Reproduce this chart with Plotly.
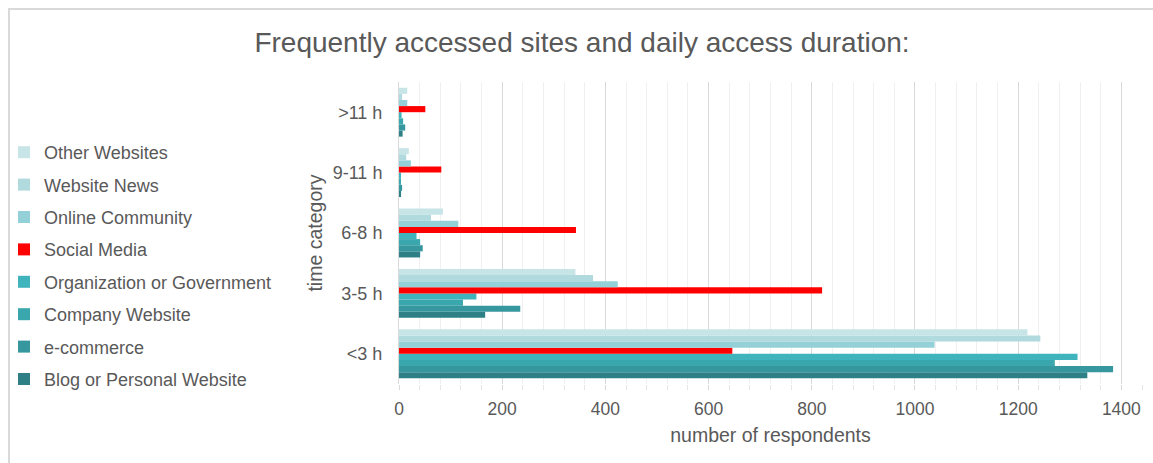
import plotly.graph_objects as go

categories = ["<3 h", "3-5 h", "6-8 h", "9-11 h", ">11 h"]

# series listed bottom-to-top within each group
series_names = [
    "Blog or Personal Website",
    "e-commerce",
    "Company Website",
    "Organization or Government",
    "Social Media",
    "Online Community",
    "Website News",
    "Other Websites",
]
blog = [1334, 167, 41, 4, 7]
ecommerce = [1384, 235, 46, 6, 12]
company = [1271, 124, 41, 3, 8]
organization = [1315, 150, 34, 4, 5]
social = [646, 820, 343, 82, 51]
community = [1038, 424, 115, 23, 16]
news = [1243, 376, 62, 14, 6]
other = [1218, 342, 85, 19, 16]

series_values = [blog, ecommerce, company, organization, social, community, news, other]
colors = ["#2f8086", "#37979e", "#3aa6ad", "#40b4bc", "#ff0000", "#93d0d7", "#b1dadf", "#c7e4e7"]

fig = go.Figure()
for i, (name, vals, col) in enumerate(zip(series_names, series_values, colors)):
    fig.add_trace(go.Bar(
        y=categories, x=vals, name=name, orientation="h",
        marker=dict(color=col, line=dict(width=0)),
        legendgroup=name, legendrank=1000 - i,
    ))

font_family = "Liberation Sans, Arial, sans-serif"
grey = "#595959"
W, H = 1153, 463
L, R, T, B = 399, 11, 82, 79
pw, ph = W - L - R, H - T - B

fig.update_layout(
    width=W, height=H,
    margin=dict(l=L, r=R, t=T, b=B, autoexpand=False),
    paper_bgcolor="white", plot_bgcolor="white",
    barmode="group", bargap=0.19, bargroupgap=0,
    font=dict(family=font_family, color=grey, size=17),
    title=dict(text="Frequently accessed sites and daily access duration:",
               x=582 / W, xref="container", xanchor="center",
               y=1 - 42 / H, yref="container", yanchor="middle",
               font=dict(size=28, color=grey, family=font_family)),
    legend=dict(traceorder="grouped", xref="container", yref="container",
                x=4 / W, xanchor="left", y=1 - 134 / H, yanchor="top",
                font=dict(size=18, color=grey), tracegroupgap=6, maxheight=420,
                itemwidth=30, bgcolor="rgba(0,0,0,0)"),
    xaxis=dict(range=[0, 1440], dtick=200, tick0=0, showgrid=True, gridcolor="#d9d9d9",
               gridwidth=1, zeroline=False, showline=False, automargin=False,
               ticks="outside", ticklen=5, tickcolor="#d9d9d9", ticklabelstandoff=4,
               minor=dict(dtick=40, showgrid=True, gridcolor="#f0f0f0", ticks="outside",
                          ticklen=5, tickcolor="#e6e6e6"),
               tickfont=dict(size=17.5, color=grey), fixedrange=True,
               title=dict(text="number of respondents", font=dict(size=19.5, color=grey), standoff=10)),
    yaxis=dict(showgrid=False, showline=True, linecolor="#d9d9d9", ticks="", automargin=False,
               tickfont=dict(size=18, color=grey), ticklabelstandoff=12,
               title=dict(text="time category", font=dict(size=19.5, color=grey), standoff=4)),
    shapes=[dict(type="rect", xref="paper", yref="paper",
                 x0=(9 - L) / pw, x1=(W + 20 - L) / pw,
                 y0=-(H + 20 - (H - B)) / ph, y1=(H - B - 9) / ph,
                 line=dict(color="#d9d9d9", width=2), fillcolor="rgba(0,0,0,0)", layer="below")],
)

fig.write_html("out.html")
